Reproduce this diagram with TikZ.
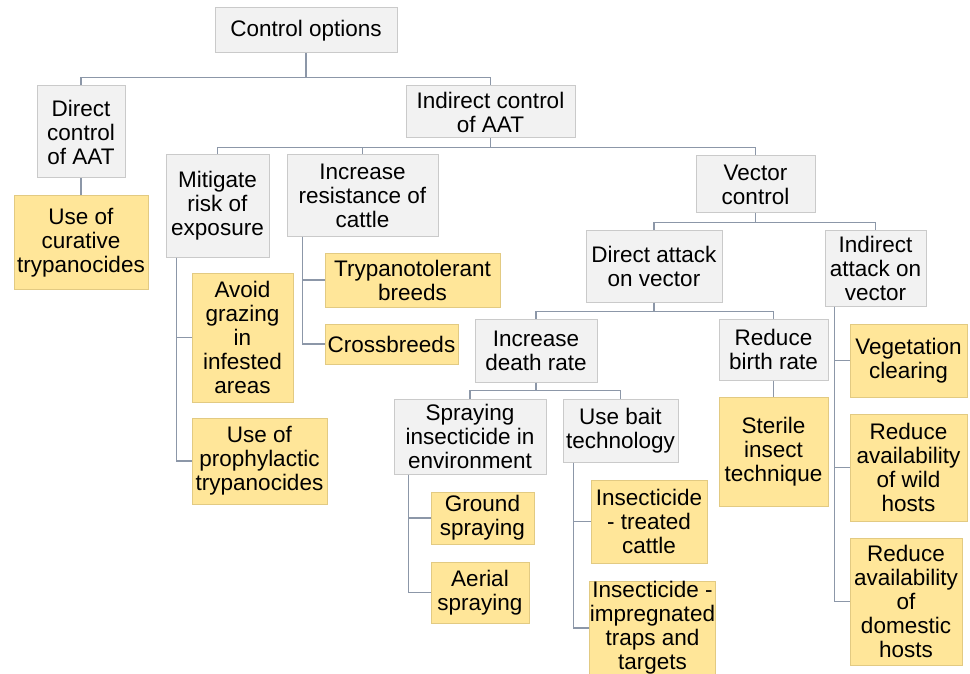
\documentclass[tikz,border=0pt]{standalone}
\usepackage{fontspec}
\setmainfont{Liberation Sans}
\definecolor{boxgray}{HTML}{F2F2F2}
\definecolor{edgegray}{HTML}{CACACA}
\definecolor{boxgold}{HTML}{FFE699}
\definecolor{edgegold}{HTML}{E2CA82}
\definecolor{linkcol}{HTML}{8C97A8}
\tikzstyle{gb}=[rectangle,draw=edgegray,fill=boxgray,line width=1pt,align=center,inner sep=0pt,font=\fontsize{22.5}{24}\selectfont]
\tikzstyle{yb}=[gb,draw=edgegold,fill=boxgold]
\tikzstyle{ln}=[draw=linkcol,line width=1.2pt]
\tikzset{wh/.style 2 args={minimum width=#1pt,minimum height=#2pt}}

\begin{document}
\begin{tikzpicture}[x=1pt,y=-1pt]
\fill[white] (0,0) rectangle (970,674);
\useasboundingbox (0,0) rectangle (970,674);
% level 0 and 1
\node[gb,wh={182}{45}] (top) at (306,30.5) {Control options};
\node[gb,wh={88}{92}] (dctl) at (81,132) {Direct\\control\\of AAT};
\node[gb,wh={169}{52}] (ictl) at (490.5,112) {Indirect control\\of AAT};
\node[yb,wh={134}{93}] (cur) at (81,242.5) {Use of\\curative\\trypanocides};
% indirect control
\node[gb,wh={103}{102}] (mit) at (217.5,206) {Mitigate\\risk of\\exposure};
\node[gb,wh={151}{81}] (res) at (362.5,195.5) {Increase\\resistance of\\cattle};
\node[gb,wh={119}{57}] (vec) at (755.5,184.5) {Vector\\control};
\node[yb,wh={101}{129}] (avoid) at (242.5,337.5) {Avoid\\grazing\\in\\infested\\areas};
\node[yb,wh={135}{86}] (proph) at (259.5,461) {Use of\\prophylactic\\trypanocides};
\node[yb,wh={175}{54}] (trypt) at (412.5,280) {Trypanotolerant\\breeds};
\node[yb,wh={133}{40}] (cross) at (391.5,344) {Crossbreeds};
% vector control
\node[gb,wh={136}{72}] (dat) at (654,266) {Direct attack\\on vector};
\node[gb,wh={101}{76}] (iat) at (875.5,268) {Indirect\\attack on\\vector};
\node[gb,wh={122}{63}] (idr) at (536,350.5) {Increase\\death rate};
\node[gb,wh={109}{61}] (rbr) at (773.5,349.5) {Reduce\\birth rate};
\node[yb,wh={109}{109}] (sit) at (773.5,451.5) {Sterile\\insect\\technique};
\node[gb,wh={152}{75}] (spr) at (470,436.5) {Spraying\\insecticide in\\environment};
\node[gb,wh={115}{63}] (bait) at (620.5,430.5) {Use bait\\technology};
\node[yb,wh={103}{52}] (grd) at (482.5,518) {Ground\\spraying};
\node[yb,wh={98}{61}] (aer) at (480,592.5) {Aerial\\spraying};
\node[yb,wh={116}{83}] (itc) at (649,521.5) {Insecticide\\- treated\\cattle};
\node[yb,wh={123}{92}] (itt) at (652.5,628) {Insecticide -\\impregnated\\traps and\\targets};
\node[yb,wh={117}{73}] (veg) at (908.5,360.5) {Vegetation\\clearing};
\node[yb,wh={117}{107}] (rwh) at (908.5,467.5) {Reduce\\availability\\of wild\\hosts};
\node[yb,wh={112}{127}] (rdh) at (906,601.5) {Reduce\\availability\\of\\domestic\\hosts};
% buses
\draw[ln] (top.south) -- ++(0,24) -| (dctl.north);
\draw[ln] (top.south) -- ++(0,24) -| (ictl.north);
\draw[ln] (dctl.south) -- (cur.north);
\draw[ln] (ictl.south) -- ++(0,9) -| (mit.north);
\draw[ln] (ictl.south) -- ++(0,9) -| (res.north);
\draw[ln] (ictl.south) -- ++(0,9) -| (vec.north);
\draw[ln] (vec.south) -- ++(0,9) -| (dat.north);
\draw[ln] (vec.south) -- ++(0,9) -| (iat.north);
\draw[ln] (dat.south) -- ++(0,9) -| (idr.north);
\draw[ln] (dat.south) -- ++(0,9) -| (rbr.north);
\draw[ln] (idr.south) -- ++(0,8) -| (spr.north);
\draw[ln] (idr.south) -- ++(0,8) -| (bait.north);
\draw[ln] (rbr.south) -- (sit.north);
% side branches
\draw[ln] ([xshift=11pt]mit.south west) |- (avoid.west);
\draw[ln] ([xshift=11pt]mit.south west) |- (proph.west);
\draw[ln] ([xshift=16pt]res.south west) |- (trypt.west);
\draw[ln] ([xshift=16pt]res.south west) |- (cross.west);
\draw[ln] ([xshift=15pt]spr.south west) |- (grd.west);
\draw[ln] ([xshift=15pt]spr.south west) |- (aer.west);
\draw[ln] ([xshift=11pt]bait.south west) |- (itc.west);
\draw[ln] ([xshift=11pt]bait.south west) |- (itt.west);
\draw[ln] ([xshift=10pt]iat.south west) |- (veg.west);
\draw[ln] ([xshift=10pt]iat.south west) |- (rwh.west);
\draw[ln] ([xshift=10pt]iat.south west) |- (rdh.west);
\end{tikzpicture}
\end{document}
